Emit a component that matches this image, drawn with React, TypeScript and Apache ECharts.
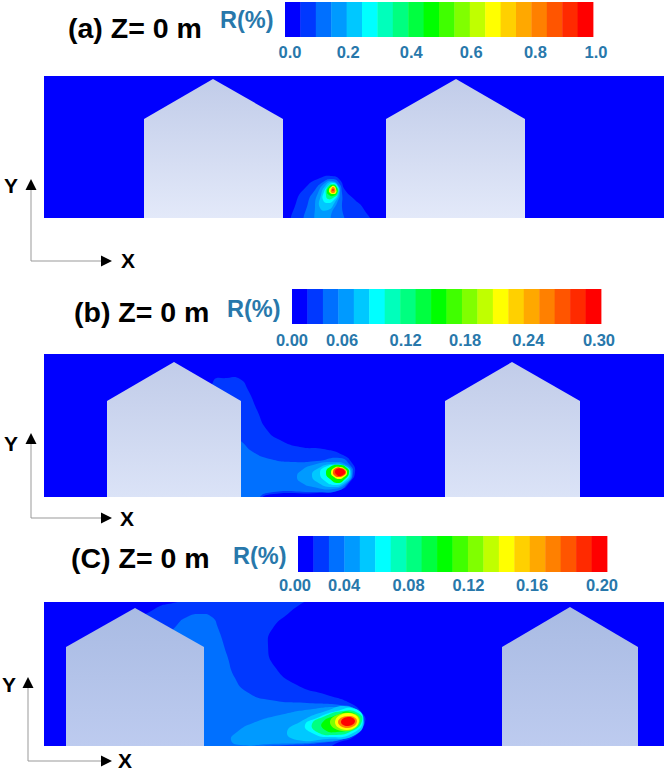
import React, { useEffect, useRef } from "react";
import * as echarts from "echarts";

const FONT = '"Liberation Sans", Arial, sans-serif';
const LABEL_BLUE = "#2878ab";

// Twenty-band rainbow used by every colour bar and contour level
const palette = [
  "#0000ff", "#0038ff", "#0070ff", "#009aff", "#00c8ff",
  "#00ffff", "#00ffbb", "#00ff80", "#00ff40", "#00ff00",
  "#40ff00", "#80ff00", "#c0ff00", "#ffff00", "#ffd000",
  "#ffa800", "#ff8000", "#ff5500", "#ff2a00", "#ff0000",
];

const panelTitles = ["(a) Z= 0 m", "(b) Z= 0 m", "(C) Z= 0 m"];
const barTitle = "R(%)";
const tickLabelsA = ["0.0", "0.2", "0.4", "0.6", "0.8", "1.0"];
const tickLabelsB = ["0.00", "0.06", "0.12", "0.18", "0.24", "0.30"];
const tickLabelsC = ["0.00", "0.04", "0.08", "0.12", "0.16", "0.20"];
// Where each printed tick label sits along its bar (0 = first label, 1 = last)
const tickPlacesA = [0, 0.19, 0.396, 0.592, 0.802, 1];
const tickPlacesB = [0, 0.163, 0.37, 0.564, 0.77, 1];
const tickPlacesC = [0, 0.16, 0.37, 0.565, 0.772, 1];

type Pt = [number, number];
type Level = { band: number; pts: Pt[] };

// Building outlines, in panel units (x along ground, y above ground)
const buildingsA: Pt[][] = [
  [[100, 0], [100, 99], [169, 139], [239, 99], [239, 0]],
  [[342, 0], [342, 99], [412, 139], [481, 99], [481, 0]],
];
const buildingsB: Pt[][] = [
  [[63, 0], [63, 96], [130, 135], [197, 96], [197, 0]],
  [[401, 0], [401, 96], [468, 135], [536, 96], [536, 0]],
];
const buildingsC: Pt[][] = [
  [[22, 0], [22, 99], [91, 138], [160, 99], [160, 0]],
  [[458, 0], [458, 99], [526, 139], [594, 99], [594, 0]],
];

// Contour levels, outermost first
const contoursA: Level[] = [
  { band: 1, pts: [[251, -6], [252, 15], [262, 31], [276, 40], [288, 42], [296, 38], [301, 28], [311, 18], [319, 10], [325, -6]] },
  { band: 2, pts: [[263, -6], [264, 15], [271, 28], [279, 36], [288, 39], [295, 35], [298, 25], [298, 11], [298, -6]] },
  { band: 3, pts: [[273, -6], [271, 11], [274, 25], [281, 35], [288, 37], [294, 33], [296, 25], [293, 15], [288, 6], [284, -6]] },
  { band: 4, pts: [[276, 10], [277, 23], [282, 33], [288, 36], [294, 32], [295, 25], [291, 16], [284, 8]] },
  { band: 5, pts: [[279, 18], [280, 26], [284, 32], [289, 35], [294, 31], [294, 25], [290, 18], [284, 15]] },
  { band: 7, pts: [[282, 23], [283, 30], [289, 34], [293, 31], [294, 25], [289, 20], [284, 19]] },
  { band: 9, pts: [[283, 26], [285, 31], [289, 33], [293, 30], [293, 25], [289, 22], [285, 23]] },
  { band: 13, pts: [[285, 28], [287, 31], [290, 32], [292, 29], [292, 25], [289, 24], [286, 25]] },
  { band: 16, pts: [[287, 28], [289, 31], [291, 29], [291, 26], [289, 25], [287, 26]] },
  { band: 18, pts: [[288, 28], [289, 29], [290, 28], [289, 27]] },
];
const contoursB: Level[] = [
  { band: 1, pts: [[163, 70], [169, 115], [183, 119], [196, 118], [204, 107], [213, 87], [223, 67], [236, 57], [256, 50], [279, 48], [299, 42], [308, 34], [311, 25], [306, 15], [296, 7], [273, 4], [223, 2], [213, -5], [189, -5]] },
  { band: 2, pts: [[189, 62], [198, 55], [209, 45], [226, 38], [249, 35], [273, 36], [296, 39], [306, 32], [309, 24], [304, 14], [293, 6], [273, 5], [223, 4], [209, -5], [189, -5]] },
  { band: 3, pts: [[253, 20], [258, 27], [269, 32], [289, 35], [303, 32], [308, 24], [303, 14], [289, 8], [269, 10], [258, 14]] },
  { band: 4, pts: [[268, 22], [273, 28], [288, 33], [301, 31], [307, 24], [301, 14], [288, 10], [273, 15]] },
  { band: 5, pts: [[276, 24], [281, 30], [293, 32], [303, 30], [306, 24], [301, 16], [291, 12], [281, 16]] },
  { band: 9, pts: [[282, 24], [286, 30], [296, 32], [303, 29], [305, 24], [301, 18], [294, 14], [286, 18]] },
  { band: 13, pts: [[287, 24], [290, 29], [296, 30], [301, 28], [303, 24], [300, 20], [295, 18], [290, 20]] },
  { band: 17, pts: [[289, 25], [292, 29], [297, 29], [301, 27], [302, 24], [299, 21], [295, 20], [291, 21]] },
  { band: 19, pts: [[291, 25], [293, 28], [298, 28], [301, 25], [299, 22], [295, 21], [293, 22]] },
];
const contoursC: Level[] = [
  { band: 1, pts: [[89, 118], [109, 136], [129, 143], [176, 150], [263, 150], [246, 134], [229, 118], [224, 101], [231, 79], [253, 61], [283, 51], [306, 43], [318, 33], [321, 24], [311, 10], [293, 3], [276, -6], [159, -6], [109, 51]] },
  { band: 2, pts: [[133, 121], [143, 129], [156, 132], [168, 129], [174, 118], [183, 91], [191, 68], [203, 54], [226, 46], [263, 43], [296, 41], [311, 37], [320, 26], [315, 15], [303, 8], [276, 3], [243, 1], [209, -1], [176, -6], [159, -6], [126, 51], [126, 108]] },
  { band: 3, pts: [[187, 6], [193, 14], [209, 23], [236, 31], [269, 37], [296, 39], [311, 37], [320, 26], [313, 14], [303, 8], [276, 4], [226, 2], [196, 1]] },
  { band: 4, pts: [[243, 14], [256, 24], [279, 34], [306, 39], [319, 26], [311, 11], [283, 7], [253, 6]] },
  { band: 5, pts: [[261, 21], [273, 28], [293, 35], [311, 37], [319, 26], [309, 13], [286, 9], [268, 13]] },
  { band: 7, pts: [[268, 22], [279, 29], [299, 35], [314, 33], [318, 25], [308, 15], [289, 11], [273, 14]] },
  { band: 9, pts: [[278, 23], [293, 31], [306, 34], [316, 26], [308, 18], [293, 14], [281, 16]] },
  { band: 11, pts: [[286, 23], [300, 33], [316, 27], [304, 15]] },
  { band: 13, pts: [[291, 24], [304, 33], [315, 25], [303, 16]] },
  { band: 16, pts: [[294, 24], [304, 30], [313, 25], [304, 18]] },
  { band: 19, pts: [[297, 24], [304, 29], [311, 25], [304, 20]] },
];

const panels = [
  { top: 76, bottom: 218, contours: contoursA, buildings: buildingsA, roofFill: "#c1cce9", baseFill: "#e3e9f9" },
  { top: 354, bottom: 497, contours: contoursB, buildings: buildingsB, roofFill: "#c1cce9", baseFill: "#dbe3f7" },
  { top: 602, bottom: 746, contours: contoursC, buildings: buildingsC, roofFill: "#a9bbe3", baseFill: "#bdcbef" },
];
const PANEL_LEFT = 44;
const PANEL_WIDTH = 620;

const colourBars = [
  { left: 285, right: 593, top: 2, bottom: 37, labelLeft: 290, labelRight: 596, margin: 5, ticks: tickLabelsA, places: tickPlacesA },
  { left: 292, right: 601, top: 289, bottom: 324, labelLeft: 292, labelRight: 599, margin: 6, ticks: tickLabelsB, places: tickPlacesB },
  { left: 298, right: 607, top: 536, bottom: 572, labelLeft: 295, labelRight: 602, margin: 3, ticks: tickLabelsC, places: tickPlacesC },
];

const titleSpots = [
  { x: 68, y: 28, barX: 220, barY: 20 },
  { x: 74, y: 312, barX: 227, barY: 309 },
  { x: 71, y: 558, barX: 233, barY: 556 },
];
const axisMarks = [
  { x: 31, top: 179, y: 261, right: 112, yLabelX: 11, yLabelY: 185, xLabelX: 128, xLabelY: 260 },
  { x: 31, top: 433, y: 518, right: 112, yLabelX: 11, yLabelY: 443, xLabelX: 127, xLabelY: 518 },
  { x: 28, top: 677, y: 761, right: 112, yLabelX: 9, yLabelY: 684, xLabelX: 125, xLabelY: 760 },
];

function buildOption() {
  const grid: any[] = [];
  const xAxis: any[] = [];
  const yAxis: any[] = [];
  const series: any[] = [];
  const graphic: any[] = [];

  panels.forEach((p) => {
    const idx = grid.length;
    grid.push({ left: PANEL_LEFT, top: p.top, width: PANEL_WIDTH, height: p.bottom - p.top, backgroundColor: palette[0], show: true, borderWidth: 0 });
    xAxis.push({ gridIndex: idx, type: "value", min: 0, max: PANEL_WIDTH, show: false });
    yAxis.push({ gridIndex: idx, type: "value", min: 0, max: p.bottom - p.top, show: false });
    series.push({
      type: "custom", coordinateSystem: "cartesian2d", xAxisIndex: idx, yAxisIndex: idx, clip: true, silent: true,
      data: p.contours.map((c) => c.pts[0]),
      renderItem: (params: any, api: any) => {
        const level = p.contours[params.dataIndex];
        return {
          type: "polygon",
          shape: { points: level.pts.map((q) => api.coord(q)), smooth: 0.55 },
          style: { fill: palette[level.band] },
        };
      },
    });
    series.push({
      type: "custom", coordinateSystem: "cartesian2d", xAxisIndex: idx, yAxisIndex: idx, clip: true, silent: true,
      data: p.buildings.map((b) => b[0]),
      renderItem: (params: any, api: any) => ({
        type: "polygon",
        shape: { points: p.buildings[params.dataIndex].map((q) => api.coord(q)) },
        style: {
          fill: new echarts.graphic.LinearGradient(0, 0, 0, 1, [
            { offset: 0, color: p.roofFill },
            { offset: 1, color: p.baseFill },
          ]),
        },
      }),
    });
  });

  colourBars.forEach((b) => {
    const idx = grid.length;
    grid.push({ left: b.left, top: b.top, width: b.right - b.left, height: b.bottom - b.top });
    xAxis.push({ gridIndex: idx, type: "value", min: 0, max: palette.length, show: false });
    yAxis.push({ gridIndex: idx, type: "value", min: 0, max: 1, show: false });
    series.push({
      type: "custom", coordinateSystem: "cartesian2d", xAxisIndex: idx, yAxisIndex: idx, silent: true,
      data: palette.map((_, i) => [i, 0]),
      renderItem: (params: any, api: any) => {
        const a = api.coord([params.dataIndex, 1]);
        const z = api.coord([params.dataIndex + 1, 0]);
        return {
          type: "rect",
          shape: { x: a[0], y: a[1], width: z[0] - a[0] + 0.4, height: z[1] - a[1] },
          style: { fill: palette[params.dataIndex] },
        };
      },
    });

    const labelIdx = grid.length;
    grid.push({ left: b.labelLeft, top: b.bottom, width: b.labelRight - b.labelLeft, height: 1 });
    xAxis.push({
      gridIndex: labelIdx, type: "value", min: 0, max: 1, position: "bottom",
      axisLine: { show: false }, axisTick: { show: false }, splitLine: { show: false },
      axisLabel: {
        show: true, margin: b.margin, customValues: b.places, hideOverlap: false,
        color: LABEL_BLUE, fontFamily: FONT, fontWeight: "bold", fontSize: 16.5,
        formatter: (v: number) => b.ticks[b.places.indexOf(v)],
      },
    });
    yAxis.push({ gridIndex: labelIdx, type: "value", min: 0, max: 1, show: false });
    series.push({ type: "custom", coordinateSystem: "cartesian2d", xAxisIndex: labelIdx, yAxisIndex: labelIdx, data: [], renderItem: () => null });
  });

  titleSpots.forEach((t, i) => {
    graphic.push({
      type: "text", x: t.x, y: t.y,
      style: { text: panelTitles[i], fill: "#000", font: `bold 28.5px ${FONT}`, textAlign: "left", textVerticalAlign: "middle" },
    });
    graphic.push({
      type: "text", x: t.barX, y: t.barY,
      style: { text: barTitle, fill: LABEL_BLUE, font: `bold 23.5px ${FONT}`, textAlign: "left", textVerticalAlign: "middle" },
    });
  });

  axisMarks.forEach((m) => {
    graphic.push({ type: "line", shape: { x1: m.x, y1: m.top + 10, x2: m.x, y2: m.y }, style: { stroke: "#999", lineWidth: 1 } });
    graphic.push({ type: "line", shape: { x1: m.x, y1: m.y, x2: m.right - 10, y2: m.y }, style: { stroke: "#999", lineWidth: 1 } });
    graphic.push({ type: "polygon", shape: { points: [[m.x, m.top], [m.x - 5.5, m.top + 11], [m.x + 5.5, m.top + 11]] }, style: { fill: "#000" } });
    graphic.push({ type: "polygon", shape: { points: [[m.right, m.y], [m.right - 11, m.y - 5.5], [m.right - 11, m.y + 5.5]] }, style: { fill: "#000" } });
    graphic.push({ type: "text", x: m.yLabelX, y: m.yLabelY, style: { text: "Y", fill: "#000", font: `bold 21px ${FONT}`, textAlign: "center", textVerticalAlign: "middle" } });
    graphic.push({ type: "text", x: m.xLabelX, y: m.xLabelY, style: { text: "X", fill: "#000", font: `bold 21px ${FONT}`, textAlign: "center", textVerticalAlign: "middle" } });
  });

  return { animation: false, backgroundColor: "#fff", grid, xAxis, yAxis, series, graphic };
}

export default function App() {
  const ref = useRef<HTMLDivElement>(null);
  useEffect(() => {
    const chart = echarts.init(ref.current!, undefined, { renderer: "svg" });
    chart.setOption(buildOption());
    return () => chart.dispose();
  }, []);
  return <div ref={ref} style={{ position: "fixed", left: 0, top: 0, width: 666, height: 771 }} />;
}
